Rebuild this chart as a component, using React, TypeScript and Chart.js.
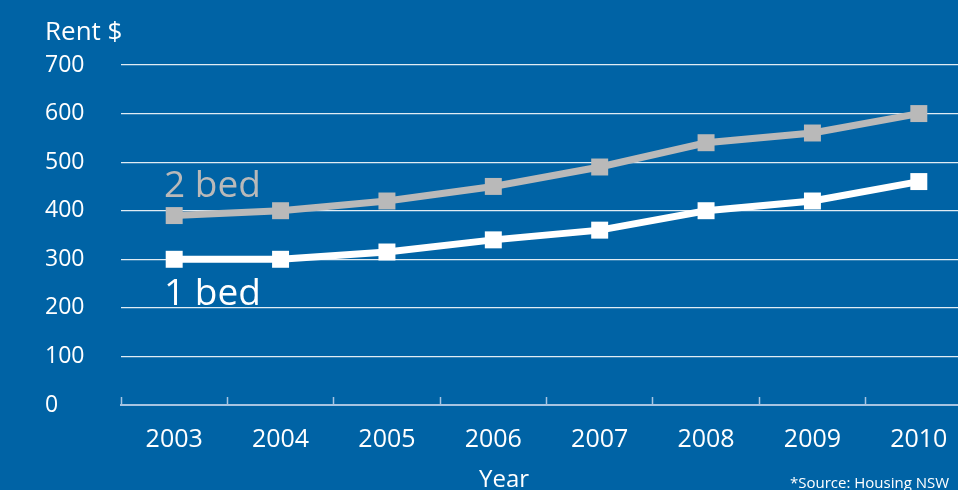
import React, { useEffect, useRef } from "react";
import { Chart, registerables } from "chart.js";

Chart.register(...registerables);

const years = ["2003", "2004", "2005", "2006", "2007", "2008", "2009", "2010"];
const twoBed = [390, 400, 420, 450, 490, 540, 560, 600];
const oneBed = [300, 300, 315, 340, 360, 400, 420, 460];
const seriesNames = ["2 bed", "1 bed"];
const yMin = 0;
const yMax = 700;
const yStep = 100;

const BG = "#0063a5";
const FONT = "'Open Sans', 'Noto Sans', sans-serif";

export default function App() {
  const ref = useRef<HTMLCanvasElement | null>(null);

  useEffect(() => {
    if (!ref.current) return;
    const chart = new Chart(ref.current, {
      type: "line",
      data: {
        labels: years,
        datasets: [
          {
            label: seriesNames[0],
            data: twoBed,
            borderColor: "#b9b9b9",
            backgroundColor: "#b9b9b9",
            borderWidth: 7,
            pointStyle: "rect",
            pointRadius: 12,
            pointBorderWidth: 0,
            tension: 0,
          },
          {
            label: seriesNames[1],
            data: oneBed,
            borderColor: "#ffffff",
            backgroundColor: "#ffffff",
            borderWidth: 7,
            pointStyle: "rect",
            pointRadius: 12,
            pointBorderWidth: 0,
            tension: 0,
          },
        ],
      },
      options: {
        animation: false,
        responsive: false,
        devicePixelRatio: 1,
        layout: { padding: { left: 45, right: 2, top: 65, bottom: 0 } },
        plugins: {
          legend: { display: false },
          tooltip: { enabled: false },
          title: { display: false },
        },
        scales: {
          x: {
            type: "category",
            offset: true,
            grid: {
              offset: true,
              drawOnChartArea: false,
              drawTicks: true,
              tickLength: -8,
              tickColor: "#a7c4e2",
              tickWidth: 1.5,
            },
            border: { display: true, color: "#a7c4e2", width: 2 },
            ticks: {
              color: "#ffffff",
              padding: 28,
              font: { family: FONT, size: 25 },
              maxRotation: 0,
            },
            afterFit: (scale: any) => {
              scale.height = 85;
            },
          },
          y: {
            min: yMin,
            max: yMax,
            grid: {
              drawTicks: false,
              color: (ctx: any) =>
                ctx.tick && ctx.tick.value === 0 ? "rgba(0,0,0,0)" : "rgba(255,255,255,0.88)",
              lineWidth: 1.2,
            },
            border: { display: false },
            ticks: {
              stepSize: yStep,
              color: "#ffffff",
              crossAlign: "far",
              font: { family: FONT, size: 23 },
            },
            afterFit: (scale: any) => {
              scale.width = 76;
            },
          },
        },
      },
    });
    return () => chart.destroy();
  }, []);

  return (
    <div
      style={{
        position: "fixed",
        left: 0,
        top: 0,
        width: 958,
        height: 490,
        overflow: "hidden",
        background: BG,
        fontFamily: FONT,
      }}
    >
      <canvas
        ref={ref}
        width={984}
        height={490}
        style={{ position: "absolute", left: 0, top: 0, width: 984, height: 490 }}
      />
      <div style={{ position: "absolute", left: 45, top: 12, color: "#ffffff", fontSize: 26, lineHeight: "36px" }}>
        Rent $
      </div>
      <div style={{ position: "absolute", left: 164, top: 159, color: "#b9b9b9", fontSize: 37, lineHeight: "48px" }}>
        {seriesNames[0]}
      </div>
      <div style={{ position: "absolute", left: 164, top: 267, color: "#ffffff", fontSize: 37, lineHeight: "48px" }}>
        {seriesNames[1]}
      </div>
      <div style={{ position: "absolute", left: 479, top: 461, color: "#ffffff", fontSize: 24, lineHeight: "34px" }}>
        Year
      </div>
      <div style={{ position: "absolute", left: 790, top: 471, color: "#ffffff", fontSize: 15, lineHeight: "22px", whiteSpace: "nowrap" }}>
        *Source: Housing NSW
      </div>
    </div>
  );
}
